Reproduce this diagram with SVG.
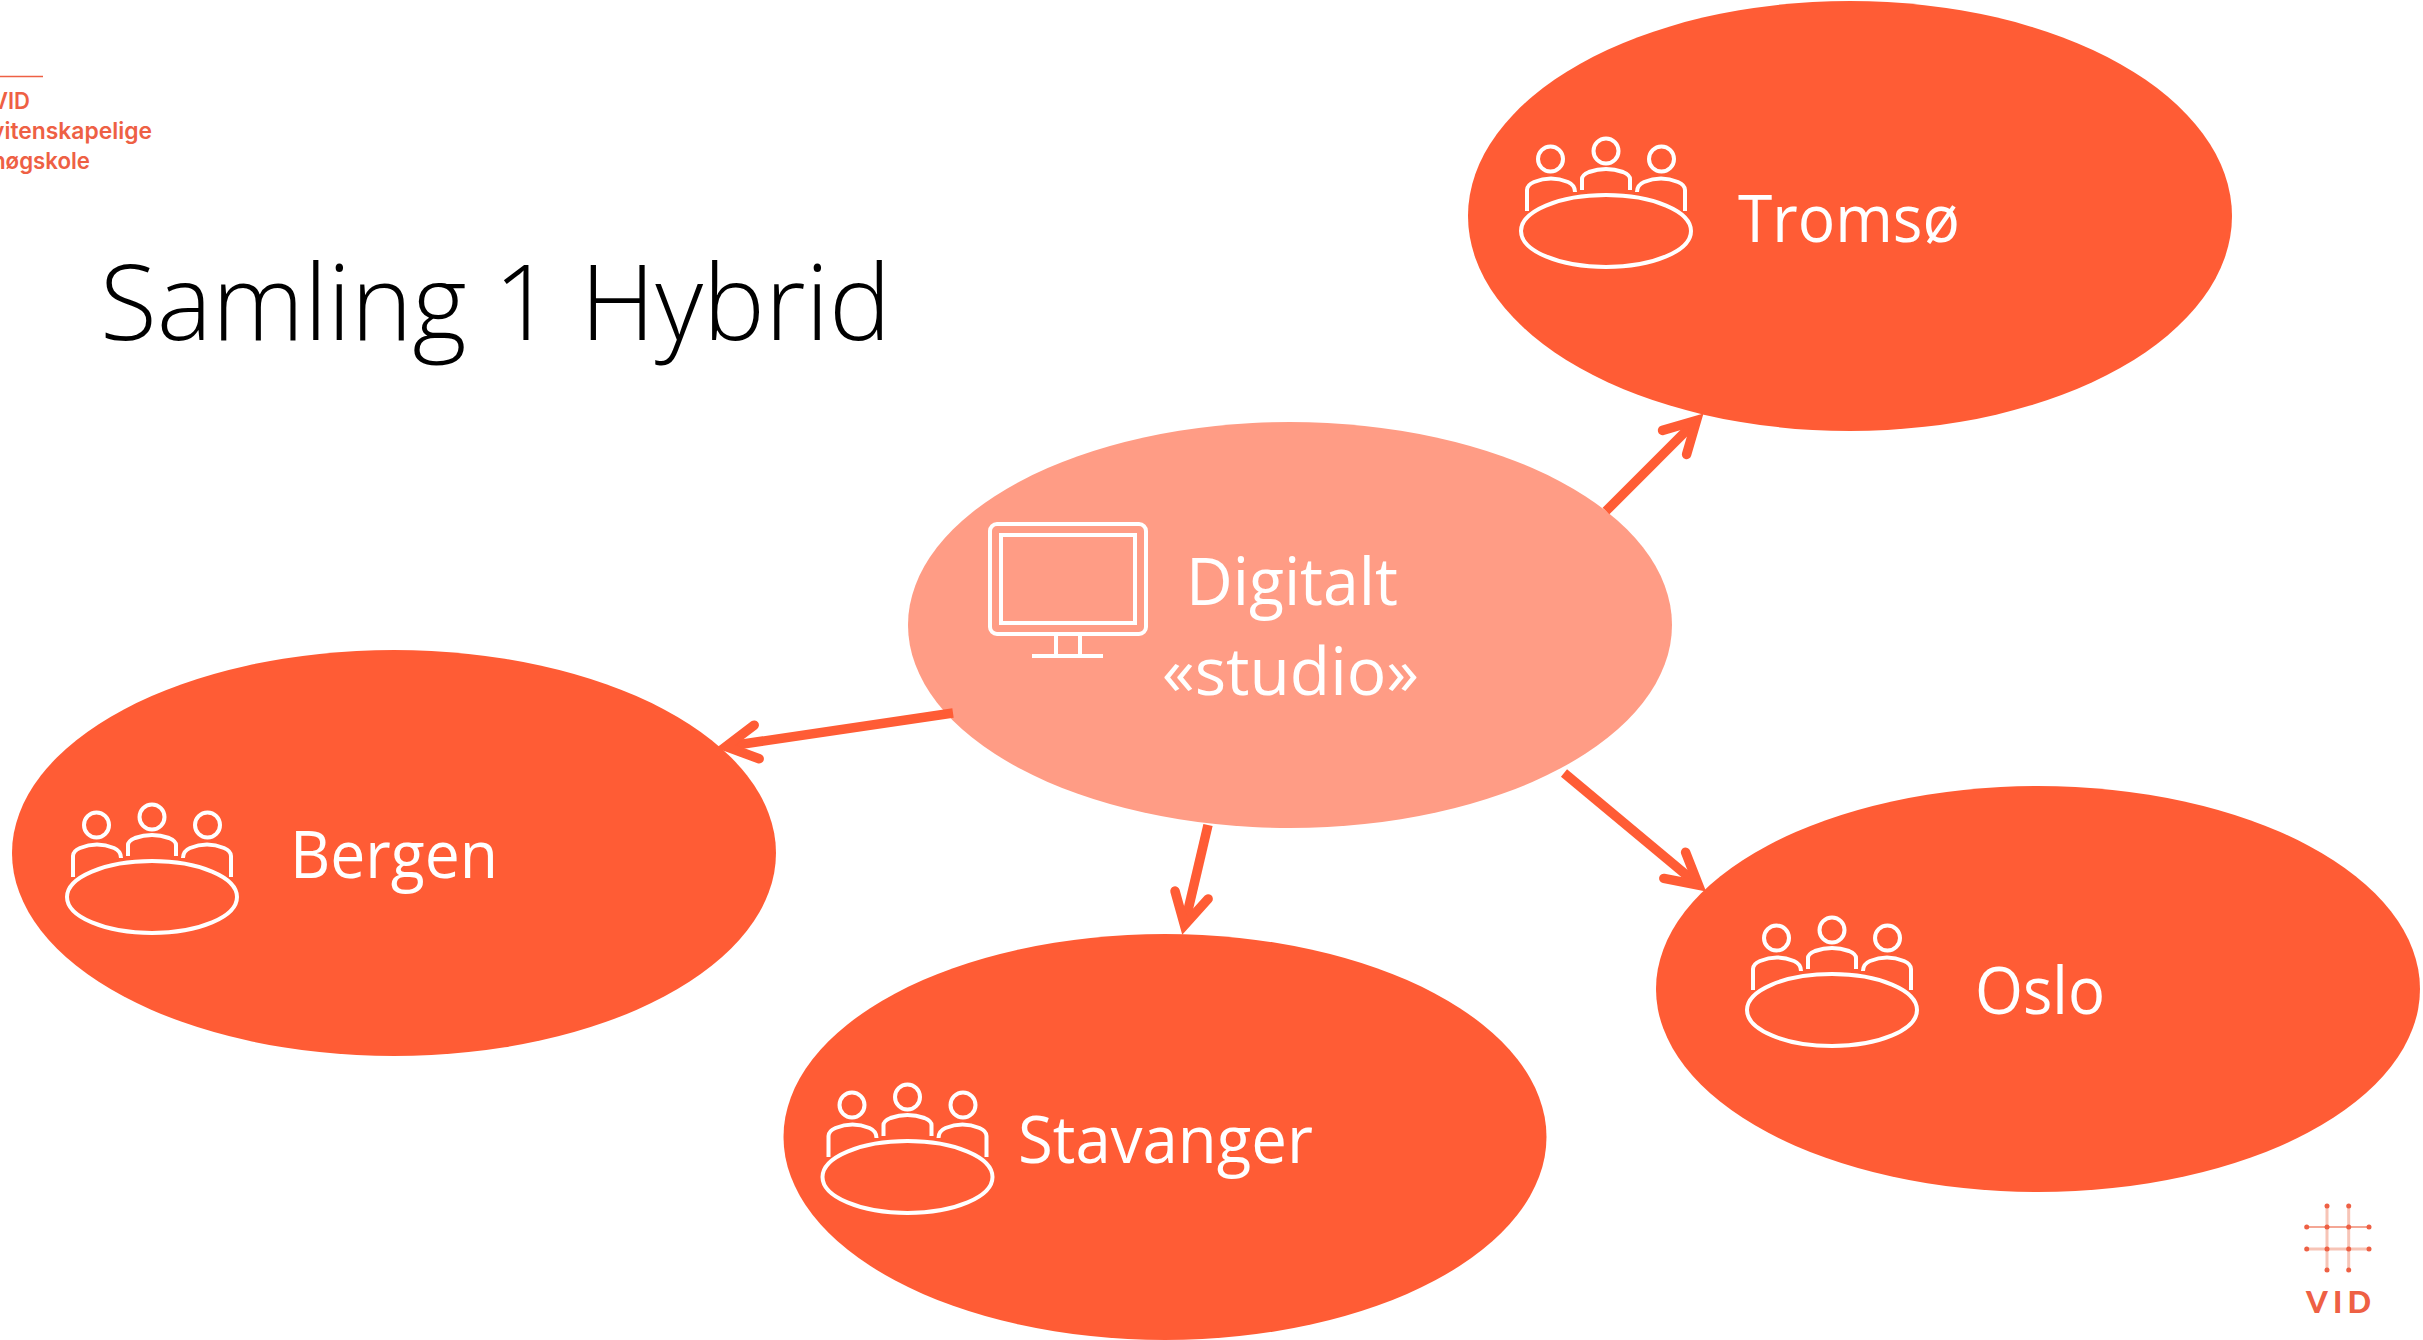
<svg xmlns="http://www.w3.org/2000/svg" width="2423" height="1340" viewBox="0 0 2423 1340">
<style>
.big{fill:#FF5C35}
.light{fill:#FF9C85}
.lab{font-family:"Open Sans","Liberation Sans",sans-serif;font-size:65px;fill:#fff;font-weight:400}
.ttl{font-family:"Open Sans","Liberation Sans",sans-serif;font-size:105px;fill:#000;font-weight:300}
.logo{font-family:"Inter","Lato","Liberation Sans",sans-serif;font-size:23px;fill:#EE6044;font-weight:600}
.ic{fill:none;stroke:#fff;stroke-width:4}
.con{fill:none;stroke:#FF5C35;stroke-width:9.500;marker-end:url(#arr)}
</style>
<defs>
<marker id="arr" markerUnits="userSpaceOnUse" viewBox="-45 -25 65 50" refX="0" refY="0" markerWidth="65" markerHeight="50" orient="auto" overflow="visible">
<path d="M-31,-17 L0,0 L-31,17" fill="none" stroke="#FF5C35" stroke-width="9.500" stroke-linecap="round" stroke-linejoin="miter" stroke-miterlimit="10"/>
</marker>
<g id="people">
<ellipse class="ic" cx="0" cy="0" rx="85" ry="36"/>
<circle class="ic" cx="-55.500" cy="-72" r="12.500"/>
<circle class="ic" cx="0" cy="-80" r="12.500"/>
<circle class="ic" cx="55.500" cy="-72" r="12.500"/>
<path class="ic" d="M-79,-20 V-41 Q-79,-46 -72,-49 Q-55,-56 -38,-49 Q-31,-46 -31,-39"/>
<path class="ic" d="M-24,-41 V-52 Q-24,-56 -17,-59 Q0,-65 17,-59 Q24,-56 24,-52 V-41"/>
<path class="ic" d="M79,-20 V-41 Q79,-46 72,-49 Q55,-56 38,-49 Q31,-46 31,-39"/>
</g>
</defs>
<rect width="2423" height="1340" fill="#fff"/>
<g id="logo-top">
<path d="M0,76.500 H43" stroke="#EE6044" stroke-width="1.500"/>
<text class="logo" x="-8" y="109" textLength="38" lengthAdjust="spacingAndGlyphs">VID</text>
<text class="logo" x="-9" y="139" textLength="161" lengthAdjust="spacingAndGlyphs">vitenskapelige</text>
<text class="logo" x="-8" y="169" textLength="98" lengthAdjust="spacingAndGlyphs">høgskole</text>
</g>
<text id="title" class="ttl" x="100" y="340" textLength="791" lengthAdjust="spacingAndGlyphs">Samling 1 Hybrid</text>
<g id="node-digitalt">
<ellipse class="light" cx="1290" cy="625" rx="382" ry="203"/>
<rect class="ic" x="990" y="524" width="156" height="110" rx="7"/>
<rect class="ic" x="1001" y="535" width="134" height="88"/>
<path class="ic" d="M1056,634 V656 M1080,634 V656 M1032,656 H1103"/>
<text class="lab" x="1186" y="605" textLength="212" lengthAdjust="spacingAndGlyphs">Digitalt</text>
<text class="lab" x="1162" y="695" textLength="257" lengthAdjust="spacingAndGlyphs">«studio»</text>
</g>
<g id="node-tromso">
<ellipse class="big" cx="1850" cy="216" rx="382" ry="215"/>
<use href="#people" x="1606" y="231"/>
<text class="lab" x="1738" y="242" textLength="222" lengthAdjust="spacingAndGlyphs">Tromsø</text>
</g>
<g id="node-bergen">
<ellipse class="big" cx="394" cy="853" rx="382" ry="203"/>
<use href="#people" x="152" y="897"/>
<text class="lab" x="290" y="878" textLength="208" lengthAdjust="spacingAndGlyphs">Bergen</text>
</g>
<g id="node-stavanger">
<ellipse class="big" cx="1165" cy="1137" rx="381.500" ry="203"/>
<use href="#people" x="907.500" y="1177"/>
<text class="lab" x="1018" y="1163" textLength="295" lengthAdjust="spacingAndGlyphs">Stavanger</text>
</g>
<g id="node-oslo">
<ellipse class="big" cx="2038" cy="989" rx="382" ry="203"/>
<use href="#people" x="1832" y="1010"/>
<text class="lab" x="1975" y="1014" textLength="130" lengthAdjust="spacingAndGlyphs">Oslo</text>
</g>
<g id="connectors">
<path class="con" d="M953,713 L726,746.500"/>
<path class="con" d="M1208,825 L1184.500,925.200"/>
<path class="con" d="M1564,773 L1698.500,885.200"/>
<path class="con" d="M1606,511 L1696.500,420.500"/>
</g>
<g id="logo-bottom">
<path d="M2327,1206 V1270 M2348.700,1206 V1270 M2307,1249 H2369" stroke="#F7C4B6" stroke-width="3" fill="none"/>
<path d="M2307,1227 H2369" stroke="#F08A72" stroke-width="1.500" fill="none"/>
<g fill="#EE6044">
<circle cx="2327" cy="1206" r="2.500"/><circle cx="2348.700" cy="1206" r="2.500"/>
<circle cx="2306.700" cy="1227" r="2.500"/><circle cx="2327" cy="1227" r="2.500"/><circle cx="2348.700" cy="1227" r="2.500"/><circle cx="2369" cy="1227" r="2.500"/>
<circle cx="2306.700" cy="1249" r="2.500"/><circle cx="2327" cy="1249" r="2.500"/><circle cx="2348.700" cy="1249" r="2.500"/><circle cx="2369" cy="1249" r="2.500"/>
<circle cx="2327" cy="1270" r="2.500"/><circle cx="2348.700" cy="1270" r="2.500"/>
</g>
<text x="2306" y="1313" font-family="Lato,'Liberation Sans',sans-serif" font-size="31" font-weight="900" fill="#EE6044" textLength="65">VID</text>
</g>
</svg>
